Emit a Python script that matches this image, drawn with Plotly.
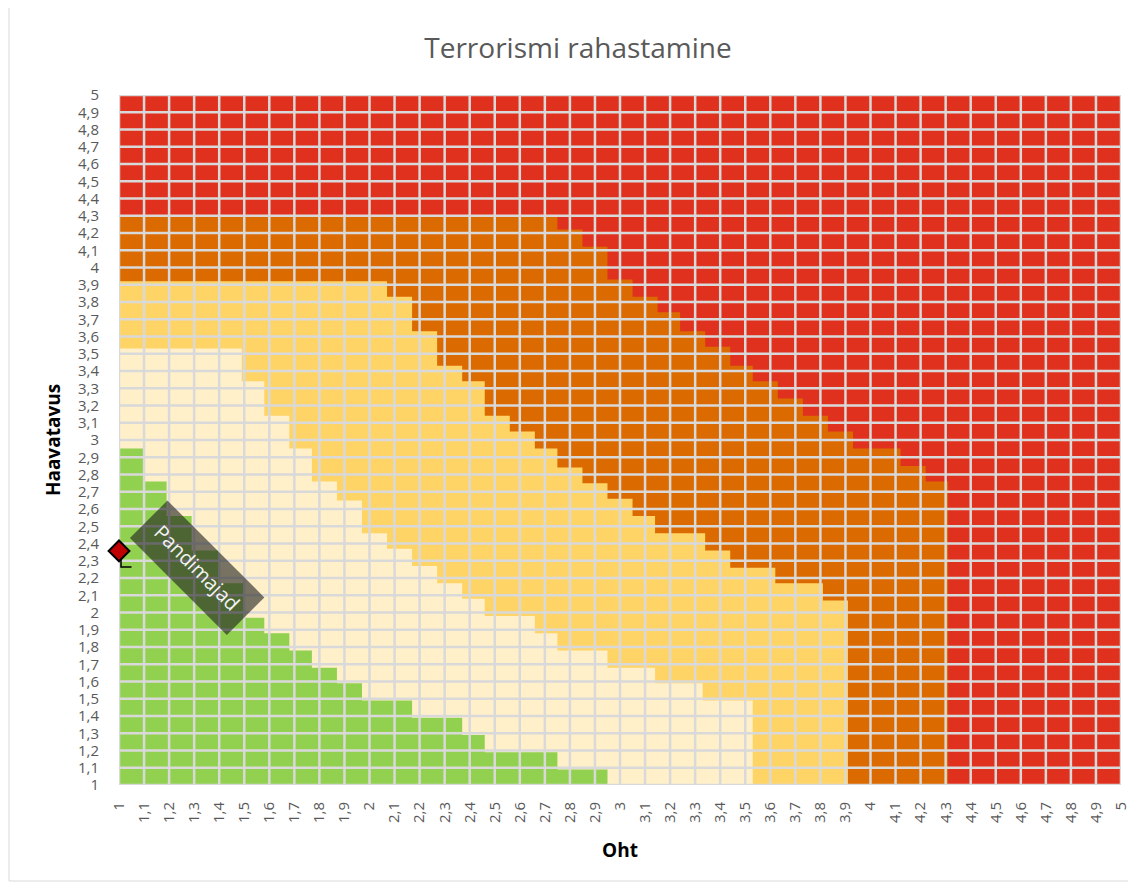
import plotly.graph_objects as go

# ---- data: step boundaries (x where a step starts, top y of the region) ----
orange_x = [1.00, 2.75, 2.85, 2.95, 3.05, 3.15, 3.24, 3.34, 3.44, 3.53, 3.63, 3.73, 3.83, 3.93, 4.12, 4.22]
orange_y = [4.30, 4.22, 4.12, 3.93, 3.83, 3.74, 3.63, 3.54, 3.43, 3.34, 3.24, 3.14, 3.05, 2.95, 2.85, 2.76]
orange_end = 4.31

yellow_x = [1.00, 2.07, 2.17, 2.27, 2.37, 2.46, 2.56, 2.66, 2.75, 2.85, 2.95, 3.05, 3.14, 3.34, 3.44, 3.62, 3.81]
yellow_y = [3.92, 3.83, 3.63, 3.43, 3.34, 3.14, 3.05, 2.95, 2.84, 2.75, 2.66, 2.56, 2.46, 2.36, 2.26, 2.17, 2.07]
yellow_end = 3.91

cream_x = [1.00, 1.49, 1.58, 1.68, 1.77, 1.87, 1.97, 2.07, 2.17, 2.27, 2.37, 2.46, 2.66, 2.75, 2.95, 3.14, 3.33]
cream_y = [3.53, 3.34, 3.14, 2.95, 2.76, 2.65, 2.46, 2.37, 2.27, 2.17, 2.08, 1.98, 1.88, 1.78, 1.68, 1.59, 1.49]
cream_end = 3.53

green_x = [1.00, 1.10, 1.19, 1.29, 1.40, 1.50, 1.58, 1.68, 1.77, 1.87, 1.97, 2.17, 2.37, 2.46, 2.75]
green_y = [2.95, 2.76, 2.56, 2.36, 2.17, 1.97, 1.88, 1.78, 1.68, 1.59, 1.49, 1.39, 1.29, 1.19, 1.09]
green_end = 2.95

point_x = [1.0]
point_y = [2.357]
point_label = "Pandimajad"

axis_min, axis_max, axis_step = 1.0, 5.0, 0.1
n_ticks = 41
tick_vals = [round(axis_min + i * axis_step, 1) for i in range(n_ticks)]
tick_text = [str(int(v)) if abs(v - round(v)) < 1e-9 else f"{v:.1f}".replace(".", ",") for v in tick_vals]

RED = "#E0311F"
ORANGE = "#DB6A00"
YELLOW = "#FFD466"
CREAM = "#FFF0CA"
GREEN = "#92D050"
GRID = "#D9D9D9"
FONT = "Open Sans"

# page has an 8px body margin, so the figure is placed at (8, 8)
FIG_W, FIG_H = 1120, 875
OFF = 8
PLOT_L, PLOT_R, PLOT_T, PLOT_B = 119, 1121, 95, 785  # target screen pixels


def step_polygon(xs, ys, x_end, base=1.0):
    px, py = [xs[0]], [base]
    for i in range(len(xs)):
        x0 = xs[i]
        x1 = xs[i + 1] if i + 1 < len(xs) else x_end
        px += [x0, x1]
        py += [ys[i], ys[i]]
    px += [x_end, xs[0]]
    py += [base, base]
    return px, py


fig = go.Figure()

# red background region
fig.add_trace(go.Scatter(x=[axis_min, axis_max, axis_max, axis_min, axis_min],
                         y=[axis_min, axis_min, axis_max, axis_max, axis_min],
                         fill="toself", fillcolor=RED, mode="lines",
                         line=dict(width=0, color=RED), hoverinfo="skip"))

for xs, ys, xe, col in [(orange_x, orange_y, orange_end, ORANGE),
                        (yellow_x, yellow_y, yellow_end, YELLOW),
                        (cream_x, cream_y, cream_end, CREAM),
                        (green_x, green_y, green_end, GREEN)]:
    px, py = step_polygon(xs, ys, xe)
    fig.add_trace(go.Scatter(x=px, y=py, fill="toself", fillcolor=col, mode="lines",
                             line=dict(width=0, color=col), hoverinfo="skip"))

# grid lines drawn above the coloured areas
gx, gy = [], []
for v in tick_vals:
    gx += [v, v, None]
    gy += [axis_min, axis_max, None]
for v in tick_vals:
    gx += [axis_min, axis_max, None]
    gy += [v, v, None]
fig.add_trace(go.Scatter(x=gx, y=gy, mode="lines", line=dict(color=GRID, width=2.5),
                         hoverinfo="skip", connectgaps=False, cliponaxis=False))

# small leader line under the point
fig.add_trace(go.Scatter(x=[point_x[0] + 0.008, point_x[0] + 0.008, point_x[0] + 0.05],
                         y=[point_y[0] - 0.05, point_y[0] - 0.093, point_y[0] - 0.093],
                         mode="lines", line=dict(color="black", width=1.5),
                         hoverinfo="skip", cliponaxis=False))

# the data point
fig.add_trace(go.Scatter(x=point_x, y=point_y, mode="markers",
                         marker=dict(symbol="diamond", size=16, color="#C00000",
                                     line=dict(color="black", width=2)),
                         cliponaxis=False, hoverinfo="skip"))

fig.add_annotation(x=1.313, y=2.258, xref="x", yref="y", text=point_label,
                   showarrow=False, textangle=45,
                   font=dict(family=FONT, size=20, color="#F2F2F2"),
                   bgcolor="rgba(30,30,30,0.6)", width=132, height=48, borderpad=2)

pw = PLOT_R - PLOT_L
ph = PLOT_B - PLOT_T
fig.update_layout(
    width=FIG_W, height=FIG_H,
    margin=dict(l=PLOT_L - OFF, r=FIG_W + OFF - PLOT_R, t=PLOT_T - OFF, b=FIG_H + OFF - PLOT_B,
                autoexpand=False),
    paper_bgcolor="white", plot_bgcolor="white",
    showlegend=False,
    title=dict(text="Terrorismi rahastamine", x=(578 - OFF) / FIG_W, xref="container", xanchor="center",
               y=1 - (48 - OFF) / FIG_H, yref="container", yanchor="middle",
               font=dict(family=FONT, size=28, color="#595959")),
    font=dict(family=FONT),
    shapes=[
        dict(type="line", xref="paper", yref="paper", x0=(9 - PLOT_L) / pw, x1=(9 - PLOT_L) / pw,
             y0=(PLOT_B - 881) / ph, y1=(PLOT_B - 8) / ph, line=dict(color=GRID, width=1)),
        dict(type="line", xref="paper", yref="paper", x0=(9 - PLOT_L) / pw, x1=(1128 - PLOT_L) / pw,
             y0=(PLOT_B - 881) / ph, y1=(PLOT_B - 881) / ph, line=dict(color=GRID, width=1)),
    ],
)

fig.update_xaxes(range=[axis_min, axis_max], tickvals=tick_vals, ticktext=tick_text,
                 tickangle=-90, ticks="outside", ticklen=10, tickcolor="rgba(0,0,0,0)",
                 tickfont=dict(family=FONT, size=15, color="#595959"),
                 ticklabeloverflow="allow",
                 showgrid=False, zeroline=False, showline=False, automargin=False,
                 title=dict(text="<b>Oht</b>", font=dict(family=FONT, size=19, color="black"),
                            standoff=21))
fig.update_yaxes(range=[axis_min, axis_max], tickvals=tick_vals, ticktext=tick_text,
                 ticks="outside", ticklen=16, tickcolor="rgba(0,0,0,0)",
                 tickfont=dict(family=FONT, size=15, color="#595959"),
                 ticklabeloverflow="allow",
                 showgrid=False, zeroline=False, showline=False, automargin=False,
                 title=dict(text="<b>Haavatavus</b>", font=dict(family=FONT, size=19, color="black"),
                            standoff=12))

fig.write_html("out.html")
